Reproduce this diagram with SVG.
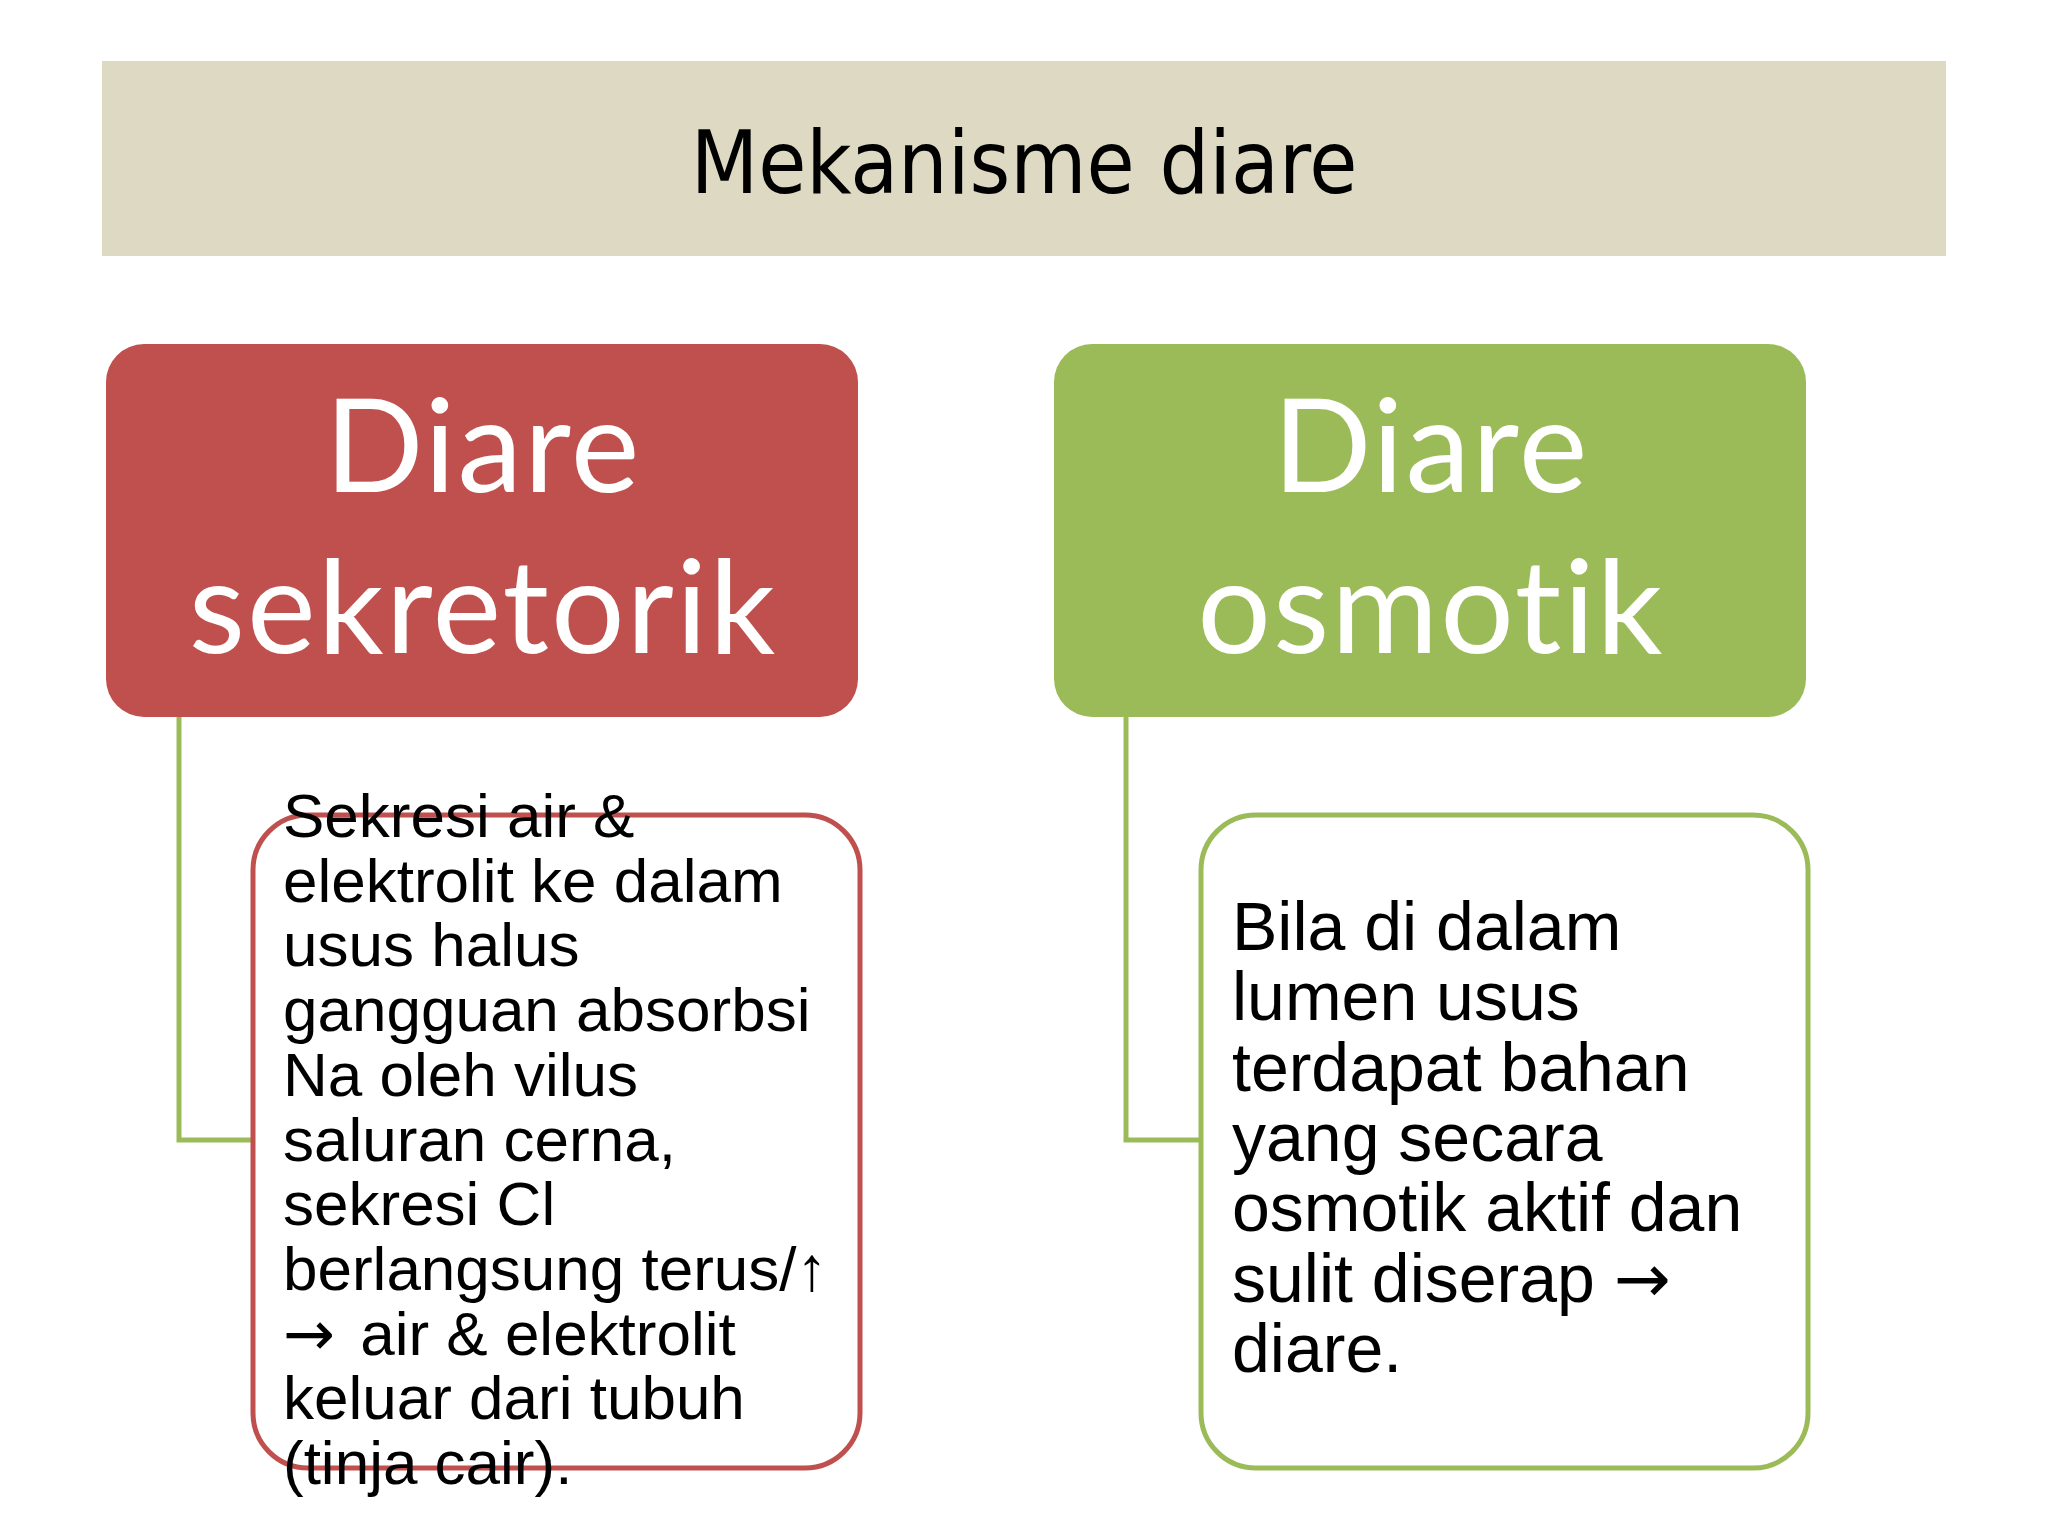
<svg xmlns="http://www.w3.org/2000/svg" width="2048" height="1536" viewBox="0 0 2048 1536">
<style>
.title{font-family:"DejaVu Sans Condensed","DejaVu Sans",sans-serif;font-size:87px;fill:#000}
.head{font-family:Lato,"Open Sans",sans-serif;font-size:130px;fill:#fff;letter-spacing:2px;font-variant-ligatures:none;font-feature-settings:"liga" 0}
.body{font-family:"Liberation Sans",Arial,sans-serif;fill:#000}
.arr{font-family:"DejaVu Sans",sans-serif}
.conn{fill:none;stroke:#9BBB59;stroke-width:5}
</style>
<rect width="2048" height="1536" fill="#fff"/>
<g id="title">
<rect x="102" y="61" width="1844" height="195" fill="#DDD9C3"/>
<text class="title" x="1024" y="193" text-anchor="middle">Mekanisme diare</text>
</g>
<g id="connectors">
<path class="conn" d="M179,717 V1140 H253"/>
<path class="conn" d="M1126,717 V1140 H1201"/>
</g>
<g id="sekretorik">
<rect x="106" y="344" width="752" height="373" rx="38" ry="38" fill="#C0504D"/>
<text class="head" x="483" y="492" text-anchor="middle">Diare</text>
<text class="head" x="483" y="653" text-anchor="middle">sekretorik</text>
</g>
<g id="osmotik">
<rect x="1054" y="344" width="752" height="373" rx="38" ry="38" fill="#9BBB59"/>
<text class="head" x="1431" y="492" text-anchor="middle">Diare</text>
<text class="head" x="1431" y="653" text-anchor="middle">osmotik</text>
</g>
<g id="sekretorik-detail">
<rect x="253" y="815" width="607" height="653" rx="55" ry="55" fill="#fff" stroke="#C0504D" stroke-width="5"/>
<text class="body" font-size="62" x="283">
<tspan x="283" y="837">Sekresi air &amp;</tspan>
<tspan x="283" y="901.7">elektrolit ke dalam</tspan>
<tspan x="283" y="966.4">usus halus</tspan>
<tspan x="283" y="1031.1">gangguan absorbsi</tspan>
<tspan x="283" y="1095.8">Na oleh vilus</tspan>
<tspan x="283" y="1160.5">saluran cerna,</tspan>
<tspan x="283" y="1225.2">sekresi Cl</tspan>
<tspan x="283" y="1289.9">berlangsung terus/↑</tspan>
<tspan x="283" y="1354.6"><tspan class="arr">→</tspan><tspan dx="8"> air &amp; elektrolit</tspan></tspan>
<tspan x="283" y="1419.3">keluar dari tubuh</tspan>
<tspan x="283" y="1484">(tinja cair).</tspan>
</text>
</g>
<g id="osmotik-detail">
<rect x="1201" y="815" width="607" height="653" rx="55" ry="55" fill="#fff" stroke="#9BBB59" stroke-width="5"/>
<text class="body" font-size="68" x="1232">
<tspan x="1232" y="950">Bila di dalam</tspan>
<tspan x="1232" y="1020.3">lumen usus</tspan>
<tspan x="1232" y="1090.6">terdapat bahan</tspan>
<tspan x="1232" y="1160.9">yang secara</tspan>
<tspan x="1232" y="1231.2">osmotik aktif dan</tspan>
<tspan x="1232" y="1301.5">sulit diserap <tspan class="arr">→</tspan></tspan>
<tspan x="1232" y="1372">diare.</tspan>
</text>
</g>
</svg>
